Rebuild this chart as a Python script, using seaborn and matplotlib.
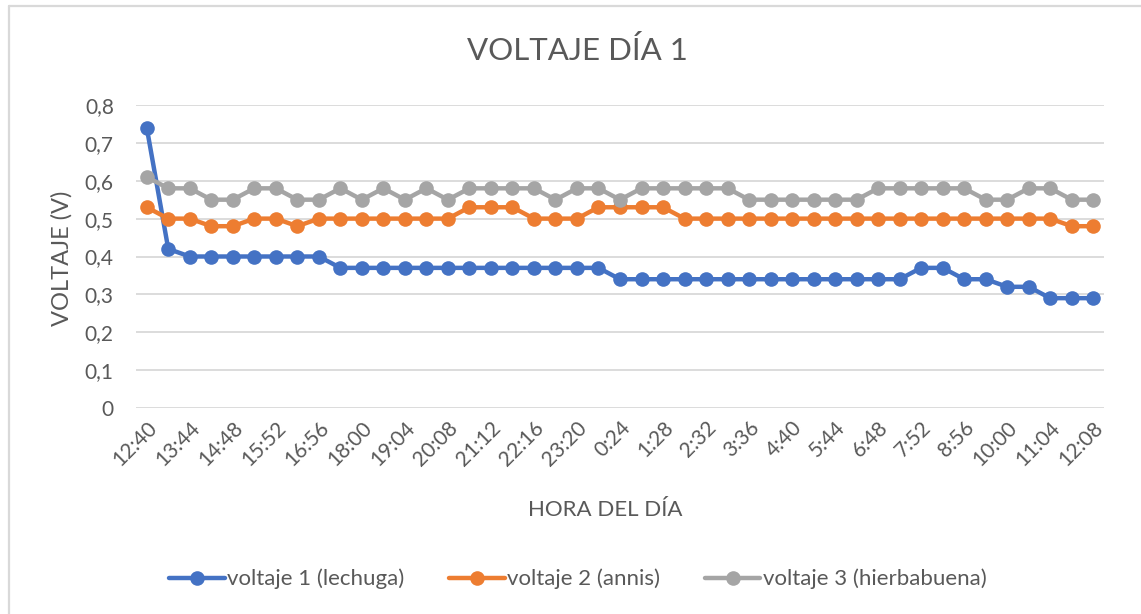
import matplotlib
matplotlib.use("Agg")
import matplotlib.pyplot as plt
import seaborn as sns
import pandas as pd
from matplotlib.lines import Line2D

times = ["12:40", "13:12", "13:44", "14:16", "14:48", "15:20", "15:52", "16:24", "16:56",
         "17:28", "18:00", "18:32", "19:04", "19:36", "20:08", "20:40", "21:12", "21:44",
         "22:16", "22:48", "23:20", "23:52", "0:24", "0:56", "1:28", "2:00", "2:32",
         "3:04", "3:36", "4:08", "4:40", "5:12", "5:44", "6:16", "6:48", "7:20", "7:52",
         "8:24", "8:56", "9:28", "10:00", "10:32", "11:04", "11:36", "12:08"]

voltaje1 = [0.74, 0.42, 0.40, 0.40, 0.40, 0.40, 0.40, 0.40, 0.40,
            0.37, 0.37, 0.37, 0.37, 0.37, 0.37, 0.37, 0.37, 0.37,
            0.37, 0.37, 0.37, 0.37, 0.34, 0.34, 0.34, 0.34, 0.34,
            0.34, 0.34, 0.34, 0.34, 0.34, 0.34, 0.34, 0.34, 0.34, 0.37,
            0.37, 0.34, 0.34, 0.32, 0.32, 0.29, 0.29, 0.29]

voltaje2 = [0.53, 0.50, 0.50, 0.48, 0.48, 0.50, 0.50, 0.48, 0.50,
            0.50, 0.50, 0.50, 0.50, 0.50, 0.50, 0.53, 0.53, 0.53,
            0.50, 0.50, 0.50, 0.53, 0.53, 0.53, 0.53, 0.50, 0.50,
            0.50, 0.50, 0.50, 0.50, 0.50, 0.50, 0.50, 0.50, 0.50, 0.50,
            0.50, 0.50, 0.50, 0.50, 0.50, 0.50, 0.48, 0.48]

voltaje3 = [0.61, 0.58, 0.58, 0.55, 0.55, 0.58, 0.58, 0.55, 0.55,
            0.58, 0.55, 0.58, 0.55, 0.58, 0.55, 0.58, 0.58, 0.58,
            0.58, 0.55, 0.58, 0.58, 0.55, 0.58, 0.58, 0.58, 0.58,
            0.58, 0.55, 0.55, 0.55, 0.55, 0.55, 0.55, 0.58, 0.58, 0.58,
            0.58, 0.58, 0.55, 0.55, 0.58, 0.58, 0.55, 0.55]

series_names = ["voltaje 1 (lechuga)", "voltaje 2 (annis)", "voltaje 3 (hierbabuena)"]
colors = ["#4472C4", "#ED7D31", "#A5A5A5"]
y_ticks = [0, 0.1, 0.2, 0.3, 0.4, 0.5, 0.6, 0.7, 0.8]
y_tick_labels = ["0", "0,1", "0,2", "0,3", "0,4", "0,5", "0,6", "0,7", "0,8"]

sns.set_theme(style="white")
plt.rcParams["font.family"] = ["Lato", "DejaVu Sans"]

rows = []
for name, vals in zip(series_names, [voltaje1, voltaje2, voltaje3]):
    for i, v in enumerate(vals):
        rows.append({"idx": i, "hora": times[i], "voltaje": v, "serie": name})
df = pd.DataFrame(rows)

W, H = 1141, 614
fig = plt.figure(figsize=(W / 100, H / 100), dpi=100)
ax = fig.add_axes([136 / W, (H - 408) / H, (1104 - 136) / W, (408 - 105) / H])

sns.lineplot(data=df, x="idx", y="voltaje", hue="serie", palette=colors,
             marker="o", markersize=10.5, markeredgewidth=0, linewidth=3.2,
             sort=False, ax=ax, legend=True)

ax.set_xlim(-0.5, len(times) - 0.5)
ax.set_ylim(0, 0.8)
ax.set_yticks(y_ticks)
ax.set_yticklabels(y_tick_labels)
ax.set_xticks(range(0, len(times), 2))
ax.set_xticklabels(times[::2], rotation=45, ha="right", rotation_mode="anchor")
ax.tick_params(axis="both", colors="#595959", labelsize=15, length=0)
ax.tick_params(axis="y", pad=16)
ax.tick_params(axis="x", pad=7)
for lab in ax.get_xticklabels() + ax.get_yticklabels():
    lab.set_color("#595959")

ax.yaxis.grid(True, color="#D9D9D9", linewidth=1.3)
ax.xaxis.grid(False)
ax.set_axisbelow(True)
for s in ax.spines.values():
    s.set_visible(False)

ax.set_xlabel("")
ax.set_ylabel("")
fig.text(605 / W, 1 - 510 / H, "HORA DEL DÍA", ha="center", va="center",
         fontsize=16, color="#595959")
fig.text(62 / W, 1 - 258 / H, "VOLTAJE (V)", ha="center", va="center", rotation=90,
         fontsize=17, color="#595959")
fig.text(577 / W, 1 - 50 / H, "VOLTAJE DÍA 1", ha="center", va="center",
         fontsize=22.5, color="#595959")

handles, labels = ax.get_legend_handles_labels()
ax.legend(handles, labels, loc="center", bbox_to_anchor=(578 / W, 1 - 579 / H),
          bbox_transform=fig.transFigure,
          ncol=3, frameon=False, fontsize=16, labelcolor="#595959", handlelength=2.5,
          handletextpad=0.12, columnspacing=2.0)

# chart-area border (top and left edges visible in the reference)
fig.add_artist(Line2D([9 / W, 9 / W], [0, 1 - 6 / H], transform=fig.transFigure,
                      color="#D9D9D9", linewidth=1.6))
fig.add_artist(Line2D([9 / W, 1], [1 - 6 / H, 1 - 6 / H], transform=fig.transFigure,
                      color="#D9D9D9", linewidth=1.6))

fig.savefig("out.png", dpi=100, facecolor="white")
